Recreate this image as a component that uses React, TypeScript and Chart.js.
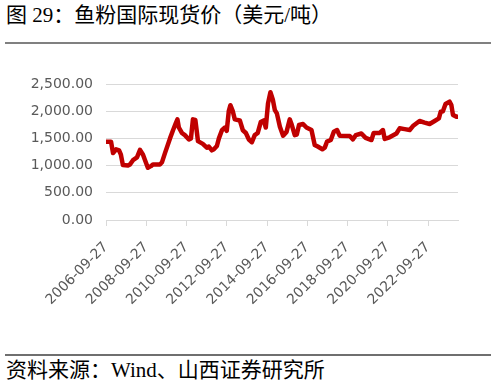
import React, { useEffect, useRef } from "react";
import { Chart, registerables } from "chart.js";

Chart.register(...registerables);

const years: number[] = [
  2006.74, 2006.99, 2007.09, 2007.24, 2007.39, 2007.48, 2007.58, 2007.83, 2007.93,
  2008.08, 2008.28, 2008.43, 2008.58, 2008.68, 2008.82, 2008.97, 2009.07, 2009.42,
  2009.52, 2009.67, 2009.92, 2010.07, 2010.21, 2010.29, 2010.36, 2010.51, 2010.66,
  2010.86, 2010.96, 2011.06, 2011.18, 2011.31, 2011.55, 2011.75, 2011.85, 2012.0,
  2012.1, 2012.25, 2012.35, 2012.5, 2012.65, 2012.74, 2012.84, 2012.92, 2013.04,
  2013.14, 2013.39, 2013.54, 2013.69, 2013.84, 2013.99, 2014.13, 2014.28, 2014.43,
  2014.58, 2014.68, 2014.79, 2014.91, 2015.03, 2015.13, 2015.23, 2015.38, 2015.54,
  2015.71, 2015.87, 2015.97, 2016.12, 2016.22, 2016.33, 2016.53, 2016.7, 2016.95,
  2017.11, 2017.26, 2017.49, 2017.61, 2017.72, 2017.91, 2018.06, 2018.22, 2018.35,
  2018.85, 2019.01, 2019.15, 2019.43, 2019.64, 2019.93, 2020.04, 2020.34, 2020.5,
  2020.59, 2020.83, 2021.17, 2021.33, 2021.58, 2021.83, 2021.99, 2022.32, 2022.57,
  2022.82, 2023.07, 2023.28, 2023.37, 2023.48, 2023.61, 2023.81, 2023.9, 2023.98,
  2024.15, 2024.23,
];

const prices: number[] = [
  1440, 1440, 1230, 1300, 1280, 1200, 1010, 1000, 1020,
  1100, 1150, 1290, 1200, 1100, 960, 990, 1020, 1020,
  1060, 1230, 1500, 1650, 1780, 1850, 1700, 1600, 1560,
  1480, 1500, 1850, 1840, 1450, 1400, 1330, 1350, 1280,
  1300, 1360, 1500, 1650, 1700, 1640, 2000, 2110, 2000,
  1850, 1830, 1650, 1600, 1480, 1430, 1560, 1600, 1800,
  1830, 1700, 2144, 2350, 2210, 2020, 1960, 1715, 1550,
  1620, 1850, 1750, 1560, 1570, 1746, 1765, 1700, 1654,
  1380, 1350, 1300, 1330, 1440, 1470, 1623, 1654, 1550,
  1545, 1483, 1560, 1590, 1510, 1470, 1600, 1600, 1654,
  1490, 1520, 1590, 1685, 1670, 1654, 1727, 1820, 1790,
  1765, 1820, 1868, 1990, 2000, 2132, 2175, 2114, 1930,
  1900, 1900,
];

const tickYears: number[] = [2006.74, 2008.74, 2010.74, 2012.74, 2014.74, 2016.74, 2018.74, 2020.74, 2022.74];
const tickLabels: string[] = [
  "2006-09-27", "2008-09-27", "2010-09-27", "2012-09-27", "2014-09-27",
  "2016-09-27", "2018-09-27", "2020-09-27", "2022-09-27",
];
const yTicks: number[] = [0, 500, 1000, 1500, 2000, 2500];

const title = "图 29：鱼粉国际现货价（美元/吨）";
const source = "资料来源：Wind、山西证券研究所";

export default function App() {
  const ref = useRef<HTMLCanvasElement | null>(null);

  useEffect(() => {
    if (!ref.current) return;
    const chart = new Chart(ref.current, {
      type: "line",
      data: {
        datasets: [
          {
            data: years.map((y, i) => ({ x: y, y: prices[i] })),
            borderColor: "#C00000",
            borderWidth: 4.5,
            pointRadius: 0,
            tension: 0,
            borderJoinStyle: "round",
            borderCapStyle: "round",
            fill: false,
          },
        ],
      },
      options: {
        animation: false,
        responsive: false,
        maintainAspectRatio: false,
        layout: { padding: { left: 0, right: 38, top: 24, bottom: 0 } },
        plugins: { legend: { display: false }, tooltip: { enabled: false } },
        scales: {
          x: {
            type: "linear",
            min: 2006.74,
            max: 2024.23,
            afterBuildTicks: (scale: any) => {
              scale.ticks = tickYears.map((v) => ({ value: v }));
            },
            afterFit: (scale: any) => {
              scale.height = 100;
            },
            ticks: {
              autoSkip: false,
              maxRotation: 45,
              minRotation: 45,
              padding: 13,
              color: "#595959",
              font: { family: '"DejaVu Sans"', size: 14 },
              callback: (_v: any, i: number) => tickLabels[i],
            },
            grid: {
              display: true,
              drawOnChartArea: false,
              drawTicks: true,
              tickLength: 6,
              color: "#d9d9d9",
            },
            border: { display: true, color: "#d9d9d9", width: 1 },
          },
          y: {
            min: 0,
            max: 2500,
            afterBuildTicks: (scale: any) => {
              scale.ticks = yTicks.map((v) => ({ value: v }));
            },
            afterFit: (scale: any) => {
              scale.width = 106;
            },
            ticks: {
              padding: 13,
              color: "#595959",
              font: { family: '"DejaVu Sans"', size: 14 },
              callback: (v: any) =>
                Number(v).toLocaleString("en-US", { minimumFractionDigits: 2, maximumFractionDigits: 2 }),
            },
            grid: { color: "#d9d9d9", drawTicks: false, lineWidth: 1 },
            border: { display: false },
          },
        },
      },
    } as any);
    return () => chart.destroy();
  }, []);

  return (
    <div
      style={{
        position: "absolute",
        left: 0,
        top: 0,
        width: 496,
        height: 385,
        background: "#fff",
        overflow: "hidden",
      }}
    >
      <div
        style={{
          position: "absolute",
          left: 6,
          top: 3,
          fontSize: 21,
          lineHeight: "25px",
          fontFamily: '"Liberation Serif", "Noto Sans CJK SC", serif',
          color: "#000",
          whiteSpace: "nowrap",
        }}
      >
        {title}
      </div>
      <div style={{ position: "absolute", left: 5, top: 42, width: 486, height: 2, background: "#808080" }} />
      <canvas
        ref={ref}
        width={496}
        height={260}
        style={{ position: "absolute", left: 0, top: 60, width: 496, height: 260 }}
      />
      <div style={{ position: "absolute", left: 5, top: 354, width: 486, height: 2, background: "#6f6f6f" }} />
      <div
        style={{
          position: "absolute",
          left: 6,
          top: 358,
          fontSize: 21,
          lineHeight: "25px",
          fontFamily: '"Liberation Serif", "Noto Sans CJK SC", serif',
          color: "#000",
          whiteSpace: "nowrap",
        }}
      >
        {source}
      </div>
    </div>
  );
}
